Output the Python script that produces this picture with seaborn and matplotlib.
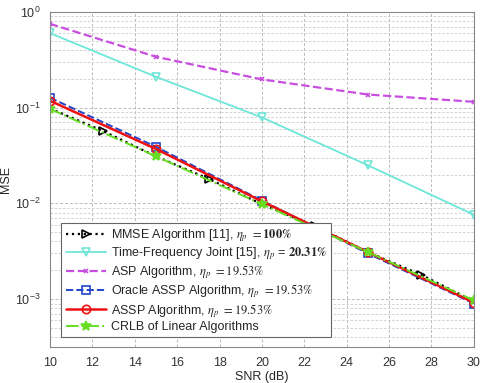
import numpy as np
import pandas as pd
import matplotlib
matplotlib.use("Agg")
import matplotlib.pyplot as plt
import seaborn as sns

snr = [10, 15, 20, 25, 30]
snr_mmse = [10, 12.5, 15, 17.5, 20, 22.5, 25, 27.5, 30]

mse_mmse = [0.098, 0.057, 0.031, 0.018, 0.0098, 0.0058, 0.0031, 0.0018, 0.00095]
mse_tf = [0.60, 0.21, 0.079, 0.025, 0.0076]
mse_asp = [0.75, 0.34, 0.197, 0.137, 0.115]
mse_oracle = [0.127, 0.039, 0.0107, 0.0030, 0.00090]
mse_assp = [0.118, 0.037, 0.0105, 0.0031, 0.00092]
mse_crlb = [0.097, 0.031, 0.0098, 0.0031, 0.00097]

labels = [
    r"MMSE Algorithm [11], $\eta_p$ $=\mathbf{100\%}$",
    r"Time-Frequency Joint [15], $\eta_p$ = $\mathbf{20.31\%}$",
    r"ASP Algorithm, $\eta_p$ $=19.53\%$",
    r"Oracle ASSP Algorithm, $\eta_p$ $=19.53\%$",
    r"ASSP Algorithm, $\eta_p$ $=19.53\%$",
    "CRLB of Linear Algorithms",
]

sns.set_style("whitegrid")
plt.rcParams["font.family"] = ["Liberation Sans", "DejaVu Sans"]
plt.rcParams["mathtext.fontset"] = "stix"

fig, ax = plt.subplots(figsize=(4.9, 3.83), dpi=100)
fig.subplots_adjust(left=0.102, right=0.967, top=0.969, bottom=0.094)

df_mmse = pd.DataFrame({"snr": snr_mmse, "mse": mse_mmse})
sns.lineplot(data=df_mmse, x="snr", y="mse", ax=ax, color="black", linestyle=":",
             linewidth=1.6, marker=">", markersize=6, markerfacecolor="none",
             markeredgecolor="black", markeredgewidth=1.2,
             markevery=[1, 3, 5, 7], label=labels[0])

series = [
    (mse_tf, "#6ee6d8", "-", "v", labels[1], 1.3),
    (mse_asp, "#c84ee0", "--", "x", labels[2], 1.6),
    (mse_oracle, "#2244cc", "--", "s", labels[3], 1.4),
    (mse_assp, "#ee1111", "-", "o", labels[4], 1.8),
    (mse_crlb, "#66dd22", "-.", "*", labels[5], 1.4),
]
for vals, col, ls, mk, lab, lw in series:
    d = pd.DataFrame({"snr": snr, "mse": vals})
    face = col if mk in ("*", "x") else "none"
    sns.lineplot(data=d, x="snr", y="mse", ax=ax, color=col, linestyle=ls,
                 linewidth=lw, marker=mk, markersize=7 if mk == "*" else (3.5 if mk == "x" else 6),
                 markerfacecolor=face, markeredgecolor=col, markeredgewidth=1.2,
                 label=lab)

ax.set_yscale("log")
ax.set_xlim(10, 30)
ax.set_ylim(10 ** -3.5, 1)
ax.set_xticks(range(10, 31, 2))
ax.grid(True, which="major", linestyle=(0, (3, 2)), color="#bbbbbb", linewidth=0.7)
ax.grid(True, which="minor", axis="y", linestyle=(0, (3, 2)), color="#cccccc", linewidth=0.6)
for s in ax.spines.values():
    s.set_color("#888888")
    s.set_linewidth(0.8)
ax.tick_params(labelsize=9, colors="#333333")
ax.set_xlabel("SNR (dB)", fontsize=9, labelpad=2)
ax.set_ylabel("MSE", fontsize=9, labelpad=2)

leg = ax.legend(loc="lower left", bbox_to_anchor=(0.012, 0.01), fontsize=9,
                frameon=True, fancybox=False, edgecolor="#666666",
                handlelength=3.2, labelspacing=0.12, borderpad=0.35,
                handletextpad=0.4, framealpha=1)
leg.get_frame().set_linewidth(0.8)

fig.savefig("out.png", dpi=100)
